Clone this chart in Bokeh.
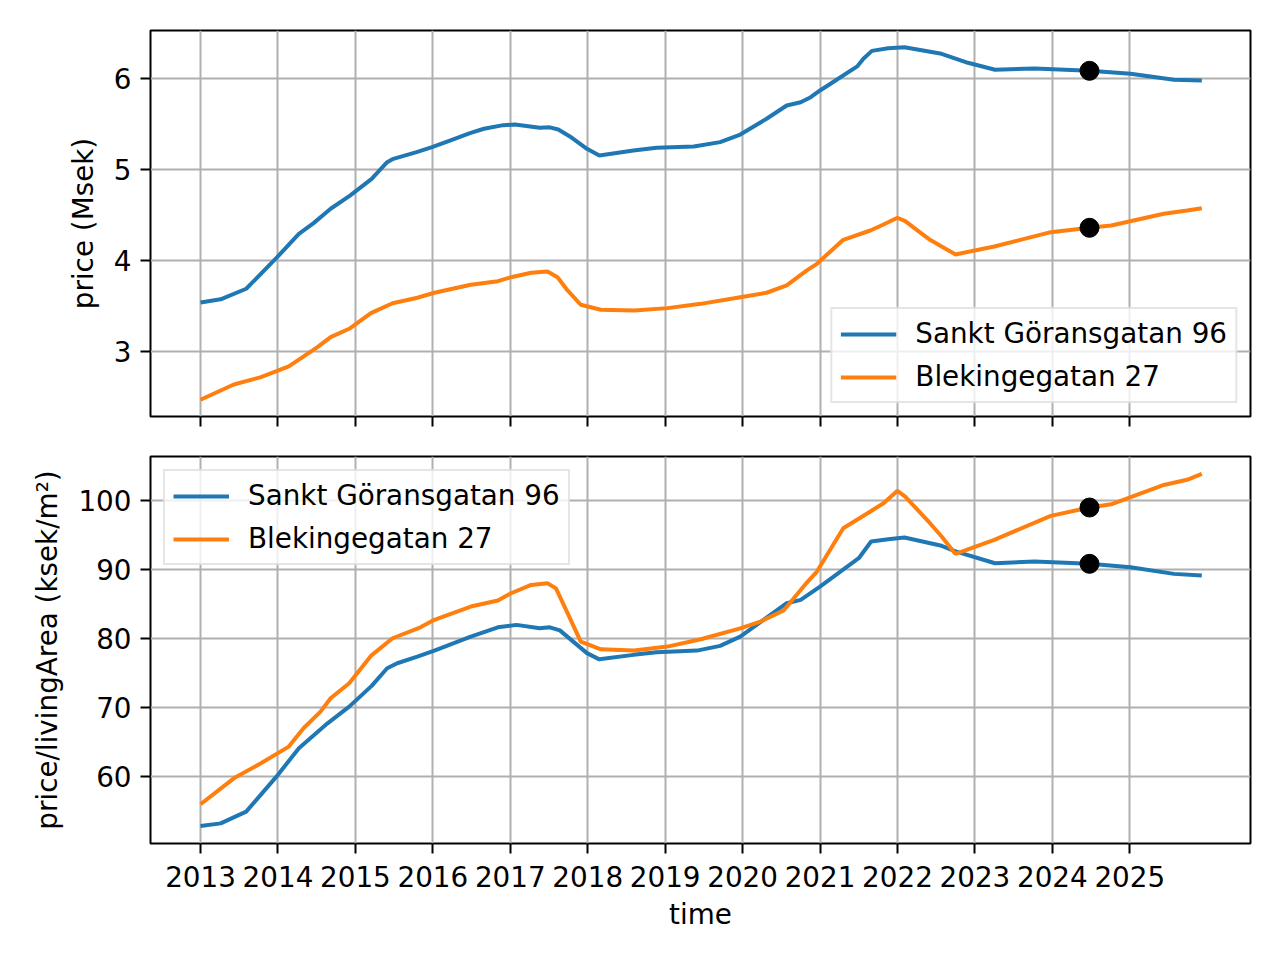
from bokeh.plotting import figure
from bokeh.layouts import column
from bokeh.models import Range1d, FixedTicker
from bokeh.embed import file_html
from bokeh.resources import INLINE

# ---- data ----
price_sg_t = [2013.0, 2013.26, 2013.59, 2013.99, 2014.27, 2014.46, 2014.68, 2014.93, 2015.21, 2015.41,
              2015.49, 2015.79, 2015.99, 2016.22, 2016.48, 2016.66, 2016.91, 2017.06, 2017.38, 2017.51,
              2017.62, 2017.77, 2017.99, 2018.15, 2018.59, 2018.89, 2019.37, 2019.71, 2019.97, 2020.31,
              2020.57, 2020.75, 2020.88, 2021.0, 2021.18, 2021.48, 2021.56, 2021.67, 2021.88, 2022.09,
              2022.57, 2022.91, 2023.26, 2023.77, 2024.48, 2025.01, 2025.57, 2025.93]
price_sg = [3.535, 3.57, 3.686, 4.033, 4.29, 4.407, 4.565, 4.71, 4.894, 5.077,
            5.114, 5.187, 5.242, 5.315, 5.396, 5.444, 5.484, 5.49, 5.455, 5.46,
            5.436, 5.36, 5.224, 5.15, 5.205, 5.235, 5.25, 5.297, 5.381, 5.554,
            5.70, 5.736, 5.791, 5.865, 5.964, 6.129, 6.213, 6.30, 6.33, 6.34,
            6.268, 6.169, 6.092, 6.107, 6.081, 6.048, 5.982, 5.975]

price_bl_t = [2013.0, 2013.43, 2013.78, 2014.14, 2014.51, 2014.68, 2014.92, 2015.2, 2015.48, 2015.8,
              2016.02, 2016.49, 2016.84, 2017.01, 2017.27, 2017.48, 2017.61, 2017.74, 2017.91, 2018.17,
              2018.6, 2019.03, 2019.46, 2019.97, 2020.31, 2020.57, 2020.83, 2020.96, 2021.3, 2021.65,
              2021.82, 2022.0, 2022.1, 2022.42, 2022.57, 2022.75, 2023.25, 2023.98, 2024.48, 2024.76,
              2025.44, 2025.74, 2025.93]
price_bl = [2.466, 2.634, 2.714, 2.832, 3.044, 3.154, 3.246, 3.418, 3.527, 3.587,
            3.642, 3.73, 3.769, 3.813, 3.862, 3.876, 3.813, 3.667, 3.51, 3.455,
            3.447, 3.473, 3.52, 3.593, 3.642, 3.722, 3.887, 3.96, 4.224, 4.326,
            4.392, 4.466, 4.429, 4.224, 4.15, 4.063, 4.15, 4.308, 4.356, 4.381,
            4.51, 4.546, 4.571]

ppa_sg_t = [2013.0, 2013.26, 2013.59, 2013.98, 2014.27, 2014.64, 2014.92, 2015.21, 2015.41, 2015.54,
            2015.8, 2016.02, 2016.49, 2016.84, 2017.08, 2017.38, 2017.51, 2017.64, 2017.99, 2018.15,
            2018.59, 2018.89, 2019.41, 2019.71, 2019.97, 2020.27, 2020.57, 2020.75, 2021.0, 2021.5,
            2021.66, 2021.88, 2022.09, 2022.57, 2022.76, 2023.26, 2023.77, 2024.48, 2025.01, 2025.57,
            2025.93]
ppa_sg = [52.83, 53.2, 54.9, 59.98, 64.1, 67.72, 70.14, 73.15, 75.7, 76.43,
          77.4, 78.27, 80.3, 81.65, 82.0, 81.5, 81.65, 81.2, 77.9, 77.0,
          77.65, 78.03, 78.27, 78.95, 80.3, 82.73, 85.14, 85.63, 87.56, 91.67,
          94.1, 94.43, 94.67, 93.47, 92.64, 90.94, 91.19, 90.86, 90.36, 89.4,
          89.16]

ppa_bl_t = [2013.0, 2013.43, 2013.78, 2014.14, 2014.33, 2014.55, 2014.68, 2014.92, 2015.2, 2015.48,
            2015.84, 2016.02, 2016.49, 2016.84, 2017.01, 2017.27, 2017.48, 2017.59, 2017.74, 2017.91,
            2018.17, 2018.6, 2019.03, 2019.46, 2019.97, 2020.23, 2020.53, 2020.83, 2020.96, 2021.3,
            2021.65, 2021.82, 2022.0, 2022.1, 2022.42, 2022.57, 2022.75, 2023.25, 2023.98, 2024.48,
            2024.76, 2025.44, 2025.74, 2025.93]
ppa_bl = [55.97, 59.74, 61.92, 64.34, 67.0, 69.42, 71.35, 73.53, 77.5, 80.06,
          81.65, 82.73, 84.66, 85.53, 86.59, 87.8, 88.04, 87.3, 83.7, 79.58,
          78.46, 78.27, 78.85, 79.91, 81.5, 82.48, 84.08, 88.14, 89.74, 96.03,
          98.45, 99.65, 101.45, 100.62, 96.75, 94.82, 92.3, 94.34, 97.82, 99.03,
          99.5, 102.3, 103.05, 103.9]

now_t = [2024.48, 2024.48]
now_price = [6.081, 4.356]
now_ppa = [90.86, 99.03]

labels = ["Sankt Göransgatan 96", "Blekingegatan 27"]
colors = ["#1f77b4", "#ff7f0e"]
year_ticks = list(range(2013, 2026))
price_ticks = [3, 4, 5, 6]
ppa_ticks = [60, 70, 80, 90, 100]

FONT = "DejaVu Sans"
FS = "27.8px"


def style(p, yticks, ylabel, show_x_labels):
    p.outline_line_color = "black"
    p.outline_line_width = 2
    p.background_fill_color = "white"
    p.border_fill_color = "white"
    for g in (p.xgrid, p.ygrid):
        g.grid_line_color = "#b0b0b0"
        g.grid_line_width = 2
    p.xaxis.ticker = FixedTicker(ticks=year_ticks)
    p.yaxis.ticker = FixedTicker(ticks=yticks)
    for ax in (p.xaxis, p.yaxis):
        ax.axis_line_color = None
        ax.major_tick_in = 0
        ax.major_tick_out = 10
        ax.major_tick_line_width = 2
        ax.major_tick_line_color = "black"
        ax.minor_tick_line_color = None
        ax.major_label_text_font = FONT
        ax.major_label_text_font_size = FS
        ax.major_label_text_color = "black"
        ax.major_label_standoff = 9
        ax.axis_label_text_font = FONT
        ax.axis_label_text_font_size = FS
        ax.axis_label_text_font_style = "normal"
        ax.axis_label_text_color = "black"
        ax.axis_label_standoff = 11
    p.yaxis.axis_label = ylabel
    if show_x_labels:
        p.xaxis.axis_label = "time"
        p.xaxis.major_label_standoff = 12
        p.xaxis.axis_label_standoff = 8
    else:
        p.xaxis.major_label_text_color = None
        p.xaxis.major_label_text_font_size = "1px"
        p.xaxis.major_label_standoff = 0


def style_legend(p, loc):
    lg = p.legend[0]
    lg.location = loc
    lg.label_text_font = FONT
    lg.label_text_font_size = FS
    lg.label_text_color = "black"
    lg.glyph_width = 56
    lg.glyph_height = 28
    lg.label_height = 28
    lg.label_standoff = 19
    lg.spacing = 10
    lg.padding = 8
    lg.margin = 13
    lg.border_line_color = "#cccccc"
    lg.border_line_width = 2
    lg.background_fill_alpha = 0.8


xr = Range1d(2012.354, 2026.559)

p1 = figure(width=1270, height=436, output_backend="svg", toolbar_location=None,
            x_range=xr, y_range=Range1d(2.282, 6.524),
            min_border_left=150, min_border_right=20, min_border_top=30, min_border_bottom=20)
p1.line(price_sg_t, price_sg, line_color=colors[0], line_width=4, legend_label=labels[0])
p1.line(price_bl_t, price_bl, line_color=colors[1], line_width=4, legend_label=labels[1])
p1.scatter(now_t, now_price, size=19, fill_color="black", line_color="black")
style(p1, price_ticks, "price (Msek)", False)
style_legend(p1, "bottom_right")

p2 = figure(width=1270, height=507, output_backend="svg", toolbar_location=None,
            x_range=xr, y_range=Range1d(50.28, 106.43),
            min_border_left=150, min_border_right=20, min_border_top=20, min_border_bottom=100)
p2.line(ppa_sg_t, ppa_sg, line_color=colors[0], line_width=4, legend_label=labels[0])
p2.line(ppa_bl_t, ppa_bl, line_color=colors[1], line_width=4, legend_label=labels[1])
p2.scatter(now_t, now_ppa, size=19, fill_color="black", line_color="black")
style(p2, ppa_ticks, "price/livingArea (ksek/m²)", True)
style_legend(p2, "top_left")

layout = column(p1, p2, spacing=0)
open("out.html", "w").write(file_html(layout, INLINE))
